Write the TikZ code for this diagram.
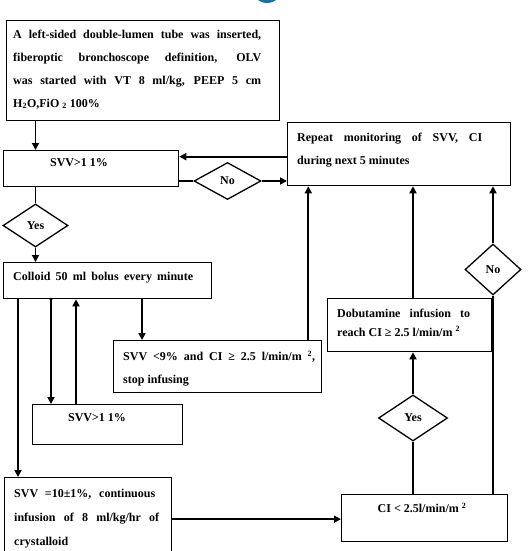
\documentclass[tikz,border=0pt]{standalone}
\usepackage{fontspec}
\setmainfont{Liberation Serif}
\usetikzlibrary{shapes.geometric,arrows.meta}
\definecolor{logoblue}{RGB}{30,110,160}
\begin{document}
\begin{tikzpicture}[x=1pt,y=-1pt,
 box/.style={draw, line width=1.3pt, inner sep=0, anchor=north west},
 dia/.style={draw, diamond, line width=1.3pt, inner sep=0, font=\bfseries\fontsize{12}{14}\selectfont},
 txt/.style={inner sep=0, anchor=north west, align=left, font=\bfseries\fontsize{12}{23}\selectfont},
 ctxt/.style={inner sep=0, font=\bfseries\fontsize{12}{14}\selectfont},
 arr/.style={line width=1.7pt, -{Triangle[length=7pt,width=7pt]}},
 ln/.style={line width=1.7pt}]
\useasboundingbox (0,0) rectangle (532,551);
\fill[logoblue] (267,-12) circle (15);
% boxes
\node[box, minimum width=273pt, minimum height=100pt] (box1) at (6,20) {};
\node[box, minimum width=175pt, minimum height=36pt] (svv1) at (3,150) {};
\node[box, minimum width=223pt, minimum height=63pt] (rep) at (287,122) {};
\node[box, minimum width=208pt, minimum height=36pt] (col) at (3,262) {};
\node[box, minimum width=208pt, minimum height=52pt] (svv9) at (113,340) {};
\node[box, minimum width=150pt, minimum height=40pt] (svv2) at (32,404) {};
\node[box, minimum width=167pt, minimum height=83pt] (cry) at (4,477) {};
\node[box, minimum width=166pt, minimum height=47pt] (ci) at (341,494) {};
\node[box, minimum width=164pt, minimum height=53pt] (dob) at (327,298) {};
% diamonds
\node[dia, minimum width=67pt, minimum height=37pt] (no1) at (227.5,181) {No};
\node[dia, minimum width=65pt, minimum height=43pt] (yes1) at (35.5,225.5) {Yes};
\node[dia, minimum width=69pt, minimum height=46pt] (yes2) at (413,418) {Yes};
\node[dia, minimum width=56pt, minimum height=51pt] (no2) at (493,269.5) {No};
% texts
\node[txt] (t1) at (13,29.5) {\makebox[248pt][s]{A left-sided double-lumen tube was inserted,}\\
\makebox[248pt][s]{fiberoptic bronchoscope definition, OLV}\\
\makebox[248pt][s]{was started with VT 8 ml/kg, PEEP 5 cm}\\
H\textsubscript{2}O,FiO \textsubscript{2} 100\%};
\node[ctxt] (t2) at (79,163) {SVV>1 1\%};
\node[txt] (t3) at (297,132.5) {\makebox[185pt][s]{Repeat monitoring of SVV, CI}\\during next 5 minutes};
\node[txt] (t4) at (13,271.5) {\makebox[180pt][s]{Colloid 50 ml bolus every minute}};
\node[txt] (t5) at (123,350.5) {\makebox[192pt][s]{SVV <9\% and CI ≥ 2.5 l/min/m \textsuperscript{2},}\\stop infusing};
\node[ctxt] (t6) at (97,418) {SVV>1 1\%};
\node[txt, font=\bfseries\fontsize{12}{19}\selectfont] (t7) at (337,308.5) {\makebox[133pt][s]{Dobutamine infusion to}\\reach CI ≥ 2.5 l/min/m \textsuperscript{2}};
\node[ctxt] (t8) at (422,508) {CI < 2.5l/min/m \textsuperscript{2}};
\node[txt, font=\bfseries\fontsize{12}{24}\selectfont] (t9) at (14,488.5) {\makebox[141pt][s]{SVV =10±1\%, continuous}\\
\makebox[145pt][s]{infusion of 8 ml/kg/hr of}\\crystalloid};
% coordinates
\coordinate (p1) at ([yshift=12pt]svv1.east);
\coordinate (c1) at ([xshift=15pt]col.south west);
\coordinate (c2) at ([xshift=48pt]col.south west);
\coordinate (c3) at ([xshift=73pt]col.south west);
\coordinate (c4) at ([xshift=139pt]col.south west);
\coordinate (c5) at ([xshift=-14pt]svv9.north east);
% connectors
\draw[arr] (yes1.north |- box1.south) -- (yes1.north |- svv1.north);
\draw[arr] (p1 -| rep.west) -- (p1);
\draw[ln] (no1.west -| svv1.east) -- (no1.west);
\draw[arr] (no1.east) -- (no1.east -| rep.west);
\draw[ln] (yes1.north |- svv1.south) -- (yes1.north);
\draw[arr] (yes1.south) -- (yes1.south |- col.north);
\draw[arr] (c1) -- (c1 |- cry.north);
\fill (c2) circle (1.6pt);
\draw[arr] (c2) -- (c2 |- svv2.north);
\draw[arr] (c3 |- svv2.north) -- (c3);
\draw[arr] (c4) -- (c4 |- svv9.north);
\draw[arr] (c5) -- (c5 |- rep.south);
\draw[arr] (yes2.north |- dob.north) -- (yes2.north |- rep.south);
\draw[arr] (yes2.north) -- (yes2.north |- dob.south);
\draw[ln] (yes2.south |- ci.north) -- (yes2.south);
\draw[ln] (no2.south |- ci.north) -- (no2.south);
\draw[arr] (no2.north) -- (no2.north |- rep.south);
\draw[arr] (cry.east) -- (cry.east -| ci.west);
\end{tikzpicture}
\end{document}
